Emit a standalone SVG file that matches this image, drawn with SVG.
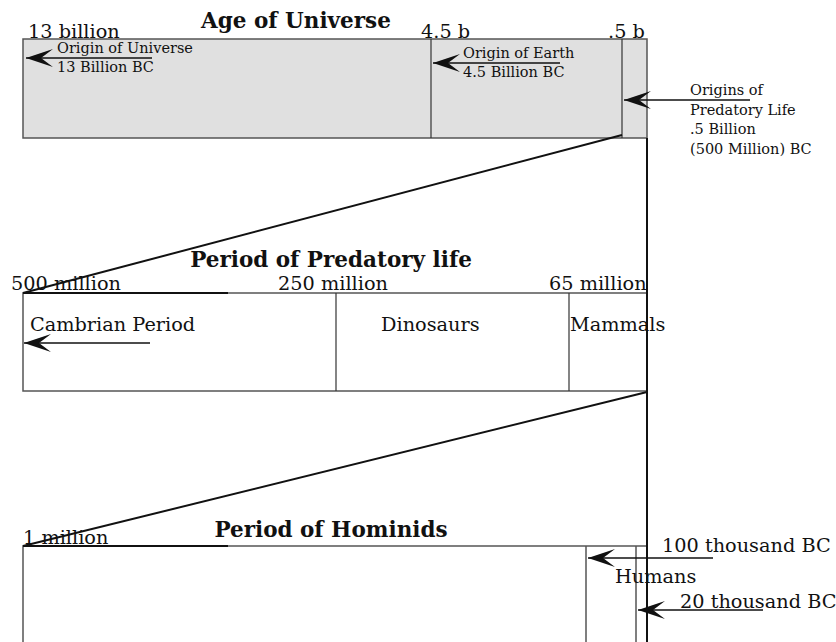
<svg xmlns="http://www.w3.org/2000/svg" width="836" height="642" viewBox="0 0 836 642">
<style>
text{font-family:"DejaVu Serif","Liberation Serif",serif;fill:#111}
.t{font-weight:bold;font-size:21.5px;text-anchor:middle}
.s{font-size:19.3px}
.m{font-size:14.5px}
.box{stroke:#555;stroke-width:1.5}
.div{stroke:#333;stroke-width:1.2}
.ln{stroke:#111;stroke-width:1.5;fill:none}
.bk{stroke:#111;stroke-width:2;fill:none}
</style>
<defs>
<marker id="ah" markerUnits="userSpaceOnUse" markerWidth="28" markerHeight="18" viewBox="0 0 28 18" refX="27" refY="9" orient="auto">
<path d="M27,9 L0,0 L12,9 L0,18 Z" fill="#111"/>
</marker>
</defs>
<g id="universe">
<rect x="23" y="39" width="624" height="99" fill="#e0e0e0" class="box"/>
<line x1="431" y1="39" x2="431" y2="138" class="div"/>
<line x1="622" y1="39" x2="622" y2="138" class="div"/>
<text class="t" x="296" y="28">Age of Universe</text>
<text class="s" x="28" y="38">13 billion</text>
<text class="s" x="421" y="38">4.5 b</text>
<text class="s" x="608" y="38">.5 b</text>
</g>
<g id="origin-universe">
<text class="m" x="57" y="53">Origin of Universe</text>
<text class="m" x="57" y="72">13 Billion BC</text>
</g>
<g id="origin-earth">
<text class="m" x="463" y="58">Origin of Earth</text>
<text class="m" x="463" y="77">4.5 Billion BC</text>
</g>
<g id="origin-predatory">
<text class="m" x="690" y="95">Origins of</text>
<text class="m" x="690" y="115">Predatory Life</text>
<text class="m" x="690" y="134">.5 Billion</text>
<text class="m" x="690" y="154">(500 Million) BC</text>
</g>
<g id="predatory">
<rect x="23" y="293" width="624" height="98" fill="#fff" class="box"/>
<line x1="336" y1="293" x2="336" y2="391" class="div"/>
<line x1="569" y1="293" x2="569" y2="391" class="div"/>
<text class="t" x="331" y="267">Period of Predatory life</text>
<text class="s" x="11" y="290">500 million</text>
<text class="s" x="278" y="290">250 million</text>
<text class="s" x="549" y="290">65 million</text>
<text class="s" x="30" y="331">Cambrian Period</text>
<text class="s" x="381" y="331">Dinosaurs</text>
<text class="s" x="570" y="331">Mammals</text>
</g>
<g id="hominids">
<path d="M23,642 V546 H647" fill="none" class="box"/>
<line x1="586" y1="546" x2="586" y2="642" class="box"/>
<line x1="636" y1="546" x2="636" y2="642" class="box"/>
<text class="t" x="331" y="537">Period of Hominids</text>
<text class="s" x="23" y="544">1 million</text>
<text class="s" x="662" y="552">100 thousand BC</text>
<text class="s" x="615" y="583">Humans</text>
<text class="s" x="680" y="608">20 thousand BC</text>
</g>
<g id="connectors">
<line x1="647" y1="138" x2="647" y2="642" class="bk"/>
<line x1="622" y1="135" x2="23" y2="293" class="bk"/>
<line x1="23" y1="293" x2="228" y2="293" class="bk"/>
<line x1="647" y1="392" x2="23" y2="546" class="bk"/>
<line x1="23" y1="546" x2="228" y2="546" class="bk"/>
<line x1="152" y1="58" x2="26" y2="58" class="ln" marker-end="url(#ah)"/>
<line x1="560" y1="63" x2="433" y2="63" class="ln" marker-end="url(#ah)"/>
<line x1="750" y1="100" x2="624" y2="100" class="ln" marker-end="url(#ah)"/>
<line x1="150" y1="343" x2="24" y2="343" class="ln" marker-end="url(#ah)"/>
<line x1="713" y1="558" x2="588" y2="558" class="ln" marker-end="url(#ah)"/>
<line x1="763" y1="610" x2="638" y2="610" class="ln" marker-end="url(#ah)"/>
</g>
</svg>
